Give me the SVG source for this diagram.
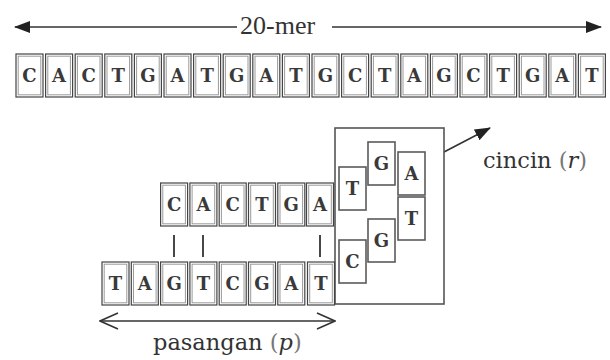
<svg xmlns="http://www.w3.org/2000/svg" xmlns:xlink="http://www.w3.org/1999/xlink" width="610" height="360" viewBox="0 0 610 360">
  <style>
    .o { fill: #fff; stroke: #444; stroke-width: 1.2; }
    .i { fill: none; stroke: #9a9a9a; stroke-width: 1; }
    .s { fill: #fff; stroke: #5a5a5a; stroke-width: 1.6; }
    .n { font-family: "DejaVu Serif", "Liberation Serif", serif; font-weight: bold; font-size: 18px; fill: #3a3a3a; text-anchor: middle; }
    .lbl { font-family: "DejaVu Serif", "Liberation Serif", serif; font-size: 22.5px; fill: #333; }
    .par { fill: #777; }
    .ln { stroke: #333; stroke-width: 1.6; fill: none; }
    .bar { stroke: #333; stroke-width: 1.8; }
  </style>
  <defs>
    <!-- base cell: dark outer frame with a lighter inner frame -->
    <g id="cell">
      <rect class="o" x="0" y="0" width="27" height="43"/>
      <rect class="i" x="2.2" y="2.2" width="22.6" height="38.6"/>
    </g>
    <!-- loop cell: single grey frame -->
    <g id="lcell">
      <rect class="s" x="0" y="0" width="27" height="43"/>
    </g>
    <marker id="solid" viewBox="0 0 16 12" refX="15" refY="6" markerWidth="16" markerHeight="12" markerUnits="userSpaceOnUse" orient="auto-start-reverse">
      <path d="M0,0 L16,6 L0,12 Z" fill="#222"/>
    </marker>
    <marker id="open" viewBox="0 0 20 18" refX="19" refY="9" markerWidth="20" markerHeight="18" markerUnits="userSpaceOnUse" orient="auto-start-reverse">
      <path d="M1,1 L19,9 L1,17" fill="none" stroke="#333" stroke-width="1.5"/>
    </marker>
  </defs>

  <g id="connectors">
    <!-- 20-mer span arrow -->
    <line class="ln" x1="15" y1="27" x2="237" y2="27" marker-start="url(#solid)"/>
    <line class="ln" x1="332" y1="27" x2="601" y2="27" marker-end="url(#solid)"/>
    <!-- pairing span arrow -->
    <line class="ln" x1="100" y1="321" x2="335" y2="321" marker-start="url(#open)" marker-end="url(#open)"/>
    <!-- base-pair bonds -->
    <line class="bar" x1="174" y1="235" x2="174" y2="257"/>
    <line class="bar" x1="203" y1="235" x2="203" y2="257"/>
    <line class="bar" x1="320" y1="235" x2="320" y2="257"/>
    <!-- loop pointer -->
    <line class="ln" x1="444" y1="152" x2="490" y2="128" marker-end="url(#solid)"/>
  </g>

  <g id="label-20mer">
    <text x="240" y="34" font-family="Liberation Serif, serif" font-size="26" fill="#333">20-mer</text>
  </g>

  <!-- full 20-mer sequence -->
  <g id="seq">
    <g id="s1"><use xlink:href="#cell" x="16" y="54"/><text class="n" x="29.5" y="82">C</text></g>
    <g id="s2"><use xlink:href="#cell" x="45.6" y="54"/><text class="n" x="59.1" y="82">A</text></g>
    <g id="s3"><use xlink:href="#cell" x="75.2" y="54"/><text class="n" x="88.7" y="82">C</text></g>
    <g id="s4"><use xlink:href="#cell" x="104.8" y="54"/><text class="n" x="118.3" y="82">T</text></g>
    <g id="s5"><use xlink:href="#cell" x="134.4" y="54"/><text class="n" x="147.9" y="82">G</text></g>
    <g id="s6"><use xlink:href="#cell" x="164" y="54"/><text class="n" x="177.5" y="82">A</text></g>
    <g id="s7"><use xlink:href="#cell" x="193.6" y="54"/><text class="n" x="207.1" y="82">T</text></g>
    <g id="s8"><use xlink:href="#cell" x="223.2" y="54"/><text class="n" x="236.7" y="82">G</text></g>
    <g id="s9"><use xlink:href="#cell" x="252.8" y="54"/><text class="n" x="266.3" y="82">A</text></g>
    <g id="s10"><use xlink:href="#cell" x="282.4" y="54"/><text class="n" x="295.9" y="82">T</text></g>
    <g id="s11"><use xlink:href="#cell" x="312" y="54"/><text class="n" x="325.5" y="82">G</text></g>
    <g id="s12"><use xlink:href="#cell" x="341.6" y="54"/><text class="n" x="355.1" y="82">C</text></g>
    <g id="s13"><use xlink:href="#cell" x="371.2" y="54"/><text class="n" x="384.7" y="82">T</text></g>
    <g id="s14"><use xlink:href="#cell" x="400.8" y="54"/><text class="n" x="414.3" y="82">A</text></g>
    <g id="s15"><use xlink:href="#cell" x="430.4" y="54"/><text class="n" x="443.9" y="82">G</text></g>
    <g id="s16"><use xlink:href="#cell" x="460" y="54"/><text class="n" x="473.5" y="82">C</text></g>
    <g id="s17"><use xlink:href="#cell" x="489.6" y="54"/><text class="n" x="503.1" y="82">T</text></g>
    <g id="s18"><use xlink:href="#cell" x="519.2" y="54"/><text class="n" x="532.7" y="82">G</text></g>
    <g id="s19"><use xlink:href="#cell" x="548.8" y="54"/><text class="n" x="562.3" y="82">A</text></g>
    <g id="s20"><use xlink:href="#cell" x="578.4" y="54"/><text class="n" x="591.9" y="82">T</text></g>
  </g>

  <!-- loop frame (drawn first so cells sit on top) -->
  <g id="loop">
    <rect x="335" y="128" width="109" height="176" fill="#fff" stroke="#555" stroke-width="1.6"/>
    <g id="l1"><use xlink:href="#lcell" x="339" y="167"/><text class="n" x="352.5" y="195">T</text></g>
    <g id="l2"><use xlink:href="#lcell" x="368" y="142"/><text class="n" x="381.5" y="170">G</text></g>
    <g id="l3"><use xlink:href="#lcell" x="398" y="152"/><text class="n" x="411.5" y="180">A</text></g>
    <g id="l4"><use xlink:href="#lcell" x="398" y="197"/><text class="n" x="411.5" y="225">T</text></g>
    <g id="l5"><use xlink:href="#lcell" x="368" y="219"/><text class="n" x="381.5" y="247">G</text></g>
    <g id="l6"><use xlink:href="#lcell" x="339" y="240"/><text class="n" x="352.5" y="268">C</text></g>
  </g>

  <!-- upper strand -->
  <g id="upper">
    <g id="u1"><use xlink:href="#cell" x="160.6" y="183"/><text class="n" x="174.1" y="211">C</text></g>
    <g id="u2"><use xlink:href="#cell" x="189.9" y="183"/><text class="n" x="203.4" y="211">A</text></g>
    <g id="u3"><use xlink:href="#cell" x="219.2" y="183"/><text class="n" x="232.7" y="211">C</text></g>
    <g id="u4"><use xlink:href="#cell" x="248.5" y="183"/><text class="n" x="262" y="211">T</text></g>
    <g id="u5"><use xlink:href="#cell" x="277.8" y="183"/><text class="n" x="291.3" y="211">G</text></g>
    <g id="u6"><use xlink:href="#cell" x="306.5" y="183"/><text class="n" x="320" y="211">A</text></g>
  </g>

  <!-- lower strand -->
  <g id="lower">
    <g id="d1"><use xlink:href="#cell" x="102" y="262"/><text class="n" x="115.5" y="290">T</text></g>
    <g id="d2"><use xlink:href="#cell" x="131.3" y="262"/><text class="n" x="144.8" y="290">A</text></g>
    <g id="d3"><use xlink:href="#cell" x="160.6" y="262"/><text class="n" x="174.1" y="290">G</text></g>
    <g id="d4"><use xlink:href="#cell" x="189.9" y="262"/><text class="n" x="203.4" y="290">T</text></g>
    <g id="d5"><use xlink:href="#cell" x="219.2" y="262"/><text class="n" x="232.7" y="290">C</text></g>
    <g id="d6"><use xlink:href="#cell" x="248.5" y="262"/><text class="n" x="262" y="290">G</text></g>
    <g id="d7"><use xlink:href="#cell" x="277.8" y="262"/><text class="n" x="291.3" y="290">A</text></g>
    <g id="d8"><use xlink:href="#cell" x="307.5" y="262"/><text class="n" x="321" y="290">T</text></g>
  </g>

  <g id="label-loop">
    <text class="lbl" x="483" y="168">cincin <tspan class="par">(</tspan><tspan font-style="italic">r</tspan><tspan class="par">)</tspan></text>
  </g>
  <g id="label-pair">
    <text class="lbl" x="153" y="350">pasangan <tspan class="par">(</tspan><tspan font-style="italic">p</tspan><tspan class="par">)</tspan></text>
  </g>
</svg>
